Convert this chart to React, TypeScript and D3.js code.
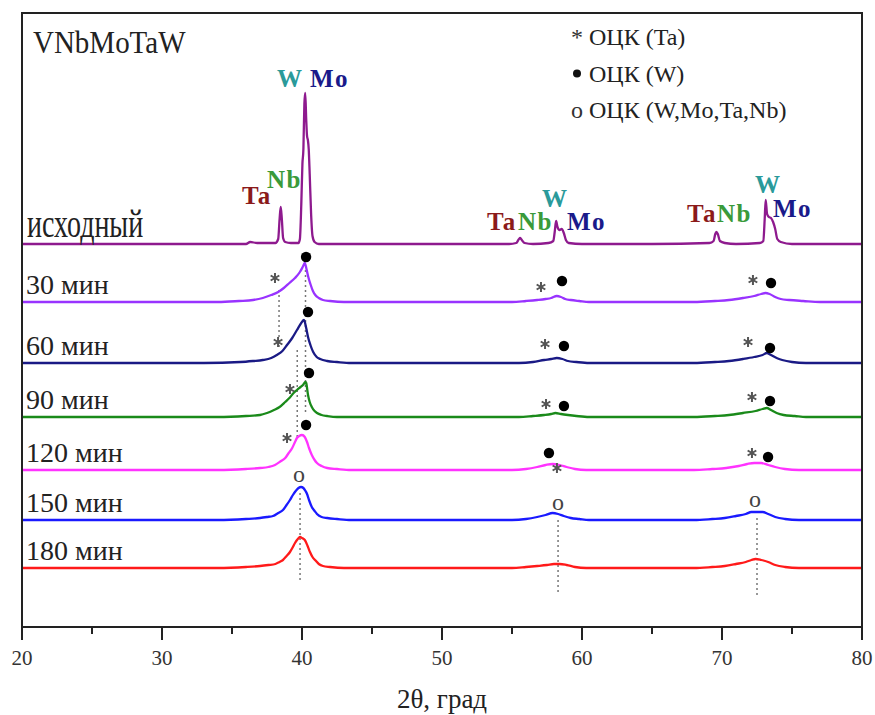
import React from 'react';
import * as d3 from 'd3';

// ---------- DATA ----------
const seriesNames = ['исходный', '30 мин', '60 мин', '90 мин', '120 мин', '150 мин', '180 мин'];
const seriesOffsets = [383, 325, 264, 210, 157, 107, 59];
const seriesColors = ['#8e1a8e', '#9933ff', '#1a1a85', '#1a8a1a', '#ff33ff', '#1a1aff', '#ff1a1a'];

const initial: [number, number][] = [
  [20, 0], [36, 0], [36.3, 2], [36.8, 1], [37.5, 1], [38.1, 1], [38.3, 5], [38.4, 25], [38.48, 37], [38.56, 25], [38.65, 6], [38.8, 2], [39.2, 1],
  [39.75, 1], [39.85, 5], [39.95, 40], [40.03, 80], [40.1, 95], [40.17, 140], [40.23, 151], [40.3, 125], [40.36, 108], [40.42, 104], [40.48, 95],
  [40.55, 70], [40.65, 30], [40.75, 8], [40.9, 2], [41.2, 0], [45, 0], [50, 0], [54.8, 0], [55.3, 1], [55.5, 5], [55.58, 6], [55.7, 4], [55.9, 1],
  [56.5, 0], [57.6, 1], [57.95, 3], [58.05, 12], [58.15, 23], [58.25, 17], [58.4, 14], [58.55, 15], [58.7, 11], [58.85, 4], [59.05, 1], [60, 0],
  [65, 0], [69.1, 1], [69.4, 3], [69.52, 10], [69.6, 12], [69.7, 10], [69.85, 3], [70.2, 1], [71, 0], [72.7, 1], [72.95, 3], [73.05, 25],
  [73.12, 44], [73.22, 30], [73.35, 27], [73.5, 26], [73.65, 22], [73.8, 15], [73.95, 5], [74.2, 2], [75, 0], [80, 0],
];
const min30: [number, number][] = [
  [20, 0], [30, 0], [34, 0], [35.5, 1], [36.5, 2], [37.2, 4], [37.8, 7], [38.3, 10], [38.7, 14], [39.1, 19], [39.5, 24], [39.85, 30], [40.05, 35],
  [40.2, 39], [40.32, 33], [40.45, 25], [40.6, 18], [40.78, 11], [40.95, 7], [41.2, 4], [41.5, 2], [42, 1], [43, 0], [50, 0], [55, 0], [56, 1],
  [56.8, 2], [57.4, 3], [57.8, 4], [58.2, 6], [58.5, 5], [58.8, 3], [59.2, 2], [59.8, 1], [60.5, 0], [68, 0], [69.5, 1], [70.5, 2], [71.5, 4],
  [72.3, 6], [72.8, 8], [73.1, 9], [73.4, 8], [73.8, 5], [74.2, 3], [74.8, 2], [75.8, 1], [77, 0], [80, 0],
];
const min60: [number, number][] = [
  [20, 0], [33, 0], [35.6, 1], [36.5, 2], [37.2, 3], [37.8, 5], [38.2, 8], [38.6, 12], [38.93, 18], [39.3, 25], [39.64, 33], [39.9, 39],
  [40.14, 43], [40.3, 35], [40.43, 26], [40.6, 18], [40.8, 11], [41.05, 6], [41.3, 4], [41.8, 2], [42.5, 1], [43.5, 0], [50, 0], [55.5, 0],
  [56.5, 1], [57.3, 3], [57.8, 4], [58.2, 5], [58.6, 4], [59, 2], [59.6, 1], [60.5, 0], [68, 0], [69.5, 1], [70.5, 2], [71.5, 4], [72.3, 6],
  [72.9, 8], [73.2, 10], [73.5, 8], [73.9, 5], [74.3, 3], [75, 1], [76, 0], [80, 0],
];
const min90: [number, number][] = [
  [20, 0], [34, 0], [36, 1], [37, 2], [37.5, 4], [38, 7], [38.4, 10], [38.8, 15], [39.1, 19], [39.4, 24], [39.64, 27], [39.9, 30], [40.07, 32],
  [40.25, 35], [40.3, 34], [40.43, 22], [40.55, 15], [40.7, 10], [40.9, 6], [41.07, 4], [41.4, 2], [41.8, 1], [42.5, 0], [50, 0], [55.5, 0],
  [56.5, 1], [57.3, 2], [57.8, 3], [58.1, 4], [58.5, 3], [59, 2], [59.6, 1], [60.5, 0], [68, 0], [69.5, 1], [70.5, 2], [71.5, 4], [72.4, 6],
  [72.9, 8], [73.2, 9], [73.5, 7], [73.9, 4], [74.4, 2], [75.2, 1], [76, 0], [80, 0],
];
const min120: [number, number][] = [
  [20, 0], [34, 0], [36, 1], [37, 2], [37.6, 3], [38.07, 5], [38.5, 9], [38.8, 12], [39.05, 17], [39.3, 22], [39.5, 28], [39.64, 32], [39.8, 34],
  [40, 35], [40.2, 33], [40.36, 28], [40.5, 22], [40.7, 15], [40.9, 10], [41.07, 7], [41.4, 4], [41.8, 2], [42.5, 1], [43.5, 0], [50, 0], [55, 0],
  [56, 1], [56.8, 3], [57.4, 5], [57.9, 6], [58.4, 5], [58.9, 3], [59.5, 1], [60.3, 0], [68, 0], [69.3, 1], [70.3, 2], [71.2, 4], [71.8, 6],
  [72.3, 7], [72.8, 7], [73.3, 5], [73.8, 3], [74.5, 1], [75.5, 0], [80, 0],
];
const min150: [number, number][] = [
  [20, 0], [34, 0], [36, 1], [37, 2], [37.5, 3], [37.93, 4], [38.3, 7], [38.64, 10], [38.9, 15], [39.14, 20], [39.35, 25], [39.55, 29],
  [39.75, 32], [39.93, 33], [40.1, 32], [40.25, 29], [40.36, 26], [40.5, 20], [40.7, 13], [40.9, 9], [41.07, 6], [41.4, 3], [41.8, 2],
  [42.5, 1], [43.5, 0], [50, 0], [55, 0], [56, 1], [56.8, 3], [57.4, 5], [57.9, 7], [58.3, 6], [58.7, 4], [59.2, 2], [59.8, 1], [60.5, 0],
  [68, 0], [69.3, 1], [70.2, 2], [71, 4], [71.7, 6], [72.1, 8], [72.5, 8], [72.9, 8], [73.3, 6], [73.8, 3], [74.5, 1], [75.5, 0], [80, 0],
];
const min180: [number, number][] = [
  [20, 0], [34, 0], [36, 1], [37, 2], [37.6, 3], [38.1, 4], [38.4, 6], [38.64, 8], [38.9, 12], [39.14, 16], [39.35, 21], [39.5, 25],
  [39.7, 29], [39.86, 31], [40.0, 30], [40.2, 28], [40.4, 22], [40.57, 16], [40.75, 11], [40.93, 8], [41.2, 4], [41.5, 2], [42, 1], [43, 0],
  [50, 0], [55, 0], [56, 1], [56.8, 2], [57.5, 3], [58, 4], [58.4, 4], [58.9, 3], [59.5, 1], [60.3, 0], [68, 0], [69.3, 1], [70.2, 2],
  [71, 4], [71.7, 6], [72.1, 8], [72.4, 9], [72.8, 8], [73.3, 6], [73.8, 3], [74.5, 1], [75.5, 0], [80, 0],
];
const seriesData = [initial, min30, min60, min90, min120, min150, min180];

const majorTicks = [20, 30, 40, 50, 60, 70, 80];
const minorTicks = [25, 35, 45, 55, 65, 75];
const xTitle = '2θ, град';
const sampleTitle = 'VNbMoTaW';
const legendSymbols = ['*', '•', 'o'];
const legendTexts = ['ОЦК (Ta)', 'ОЦК (W)', 'ОЦК (W,Mo,Ta,Nb)'];

// annotation markers (2θ, intensity in plot units)
const starMarks: [number, number][] = [
  [38.07, 349], [57.07, 340], [72.21, 347],
  [38.29, 285], [57.36, 283], [71.86, 285],
  [39.14, 238], [57.43, 223], [72.14, 230],
  [38.93, 189], [58.21, 159], [72.14, 174],
];
const dotMarks: [number, number][] = [
  [40.29, 370], [58.57, 346], [73.5, 344],
  [40.43, 315], [58.71, 281], [73.43, 279],
  [40.5, 254], [58.71, 221], [73.43, 226],
  [40.29, 202], [57.64, 174], [73.29, 170],
];
const openMarks: [number, number][] = [[39.79, 152], [58.29, 124], [72.36, 127]];
// dotted guide lines: 2θ, top, bottom
const guideLines: [number, number, number][] = [
  [38.36, 337, 277], [40.25, 357, 212], [39.66, 277, 187], [39.86, 134, 44], [58.29, 107, 34], [72.5, 109, 29],
];
// phase labels: text, 2θ, intensity
const phaseLabels: [string, number, number][] = [
  ['Ta', 35.71, 423], ['Nb', 37.5, 439], ['W', 38.21, 540], ['Mo', 40.57, 540],
  ['Ta', 53.21, 397], ['Nb', 55.43, 397], ['W', 57.14, 420], ['Mo', 58.93, 397],
  ['Ta', 67.5, 405], ['Nb', 69.64, 405], ['W', 72.36, 434], ['Mo', 73.64, 410],
];
const elementColors: Record<string, string> = { Ta: '#8b1a1a', Nb: '#3a9a3a', W: '#2a9a9a', Mo: '#1a1a8a' };

// ---------- CHART ----------
const W = 875;
const H = 715;
const left = 22, right = 862, top = 13, bottom = 627;
const FONT = '"Liberation Serif", "Times New Roman", Times, serif';
const tf = { fontFamily: FONT };

export default function App() {
  const x = d3.scaleLinear().domain([20, 80]).range([left, right]);
  const y = d3.scaleLinear().domain([0, bottom - top]).range([bottom, top]);
  const star = d3.symbol().type(d3.symbolAsterisk).size(70);

  return (
    <svg width={W} height={H} style={{ position: 'absolute', left: 0, top: 0, background: '#fff' }}>
      <rect x={0} y={0} width={W} height={H} fill="#fff" />
      {guideLines.map(([t, a, b], i) => (
        <line key={'g' + i} x1={x(t)} x2={x(t)} y1={y(a)} y2={y(b)} stroke="#777" strokeWidth={1.5} strokeDasharray="2,3" />
      ))}
      {seriesData.map((d, i) => {
        const line = d3
          .line<[number, number]>()
          .x((p) => x(p[0]))
          .y((p) => y(p[1] + seriesOffsets[i]))
          .curve(d3.curveMonotoneX);
        return <path key={'s' + i} d={line(d) || ''} fill="none" stroke={seriesColors[i]} strokeWidth={2.3} strokeLinejoin="round" />;
      })}
      {seriesNames.map((n, i) =>
        i === 0 ? (
          <text key={'l' + i} style={tf} transform={`translate(${left + 5},${y(seriesOffsets[i]) - 7}) scale(1,1.42)`} fontSize={28} fill="#222">
            {n}
          </text>
        ) : (
          <text key={'l' + i} style={tf} x={left + 4} y={y(seriesOffsets[i]) - 8} fontSize={28} fill="#222">
            {n}
          </text>
        )
      )}
      {starMarks.map(([t, v], i) => (
        <path key={'st' + i} d={star() || ''} transform={`translate(${x(t)},${y(v)})`} fill="none" stroke="#555" strokeWidth={2} />
      ))}
      {dotMarks.map(([t, v], i) => (
        <circle key={'d' + i} cx={x(t)} cy={y(v)} r={5.2} fill="#000" />
      ))}
      {openMarks.map(([t, v], i) => (
        <text key={'o' + i} style={tf} x={x(t)} y={y(v) + 7} fontSize={24} textAnchor="middle" fill="#444">
          o
        </text>
      ))}
      {phaseLabels.map(([txt, t, v], i) => (
        <text key={'p' + i} style={tf} x={x(t)} y={y(v)} fontSize={25} fontWeight="bold" fill={elementColors[txt]} letterSpacing={txt === 'W' ? 0 : 1.5}>
          {txt}
        </text>
      ))}
      <text style={tf} transform={`translate(${left + 11},53) scale(1,1.1)`} fontSize={29} fill="#222">
        {sampleTitle}
      </text>
      {legendTexts.map((t, i) => (
        <g key={'lg' + i}>
          {i === 1 ? (
            <circle cx={577} cy={45 + i * 36.5 - 8} r={4} fill="#111" />
          ) : (
            <text style={tf} x={571} y={45 + i * 36.5} fontSize={24} fill="#333">
              {legendSymbols[i]}
            </text>
          )}
          <text style={tf} x={589} y={45 + i * 36.5} fontSize={24} fill="#222">
            {t}
          </text>
        </g>
      ))}
      <rect x={left} y={top} width={right - left} height={bottom - top} fill="none" stroke="#222" strokeWidth={2} />
      {majorTicks.map((t) => (
        <g key={'mt' + t}>
          <line x1={x(t)} x2={x(t)} y1={bottom} y2={bottom + 13} stroke="#222" strokeWidth={2} />
          <text style={tf} x={x(t)} y={665} fontSize={21} textAnchor="middle" fill="#333">
            {t}
          </text>
        </g>
      ))}
      {minorTicks.map((t) => (
        <line key={'nt' + t} x1={x(t)} x2={x(t)} y1={bottom} y2={bottom + 7} stroke="#222" strokeWidth={2} />
      ))}
      <text style={tf} x={(left + right) / 2} y={708} fontSize={27} textAnchor="middle" fill="#222">
        {xTitle}
      </text>
    </svg>
  );
}
